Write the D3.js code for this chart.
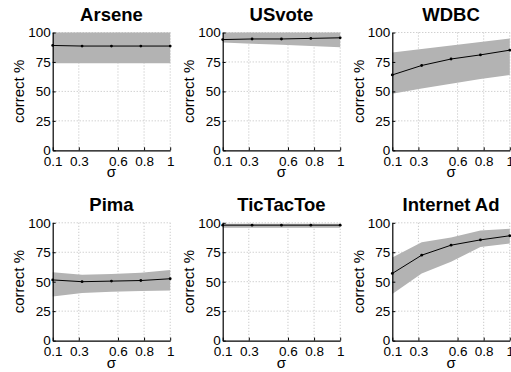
<!DOCTYPE html>
<html>
<head>
<meta charset="utf-8">
<script src="https://cdn.jsdelivr.net/npm/d3@7"></script>
<style>
  body { margin: 0; background: white; }
  svg { display: block; font-family: "Liberation Sans", Arial, sans-serif; }
</style>
</head>
<body>
<script>
// sigma values where the runs were made
var sigma = [0.1, 0.325, 0.55, 0.775, 1];
var xTicks = [0.1, 0.3, 0.6, 0.8, 1];
var yTicks = [0, 25, 50, 75, 100];

var titles = ["Arsene", "USvote", "WDBC", "Pima", "TicTacToe", "Internet Ad"];

// mean correct % and the band (lower / upper) for each data set
var arseneMean = [89, 88.5, 88.5, 88.5, 88.5];
var arseneLow  = [74, 74, 74, 74, 74];
var arseneHigh = [100, 100, 100, 100, 100];

var usvoteMean = [94, 94.5, 94.5, 95, 95.5];
var usvoteLow  = [91.5, 90.5, 89.5, 88.5, 87.5];
var usvoteHigh = [100, 100, 100, 100, 100];

var wdbcMean = [64, 72, 77.5, 81, 85];
var wdbcLow  = [48, 52.5, 56.5, 60.5, 64];
var wdbcHigh = [83, 86, 89, 92, 95];

var pimaMean = [51.5, 50, 50.5, 51, 52.5];
var pimaLow  = [37.5, 40.5, 41.5, 42, 42.5];
var pimaHigh = [58, 56, 56.5, 57.5, 60];

var tictacMean = [98, 98, 98, 98, 98];
var tictacLow  = [95.8, 95.8, 95.8, 95.8, 95.8];
var tictacHigh = [99.2, 99.2, 99.2, 99.2, 99.2];

var internetMean = [57, 72.5, 81, 85.5, 89];
var internetLow  = [39.5, 57, 67, 79.5, 82.5];
var internetHigh = [70.5, 83.5, 87.5, 93.5, 95];

var means = [arseneMean, usvoteMean, wdbcMean, pimaMean, tictacMean, internetMean];
var lows  = [arseneLow, usvoteLow, wdbcLow, pimaLow, tictacLow, internetLow];
var highs = [arseneHigh, usvoteHigh, wdbcHigh, pimaHigh, tictacHigh, internetHigh];

var width = 511, height = 372;
var colLeft = [52.7, 222.7, 392.3];
var rowTop = [32.5, 222.8];
var pw = 117.5, ph = 117.8;

var svg = d3.select("body").append("svg")
    .attr("width", width)
    .attr("height", height);

var x = d3.scaleLinear().domain([0.1, 1]).range([0, pw]);
var y = d3.scaleLinear().domain([0, 100]).range([ph, 0]);

titles.forEach(function(title, i) {
    var col = i % 3, row = Math.floor(i / 3);
    var g = svg.append("g")
        .attr("transform", "translate(" + colLeft[col] + "," + rowTop[row] + ")");

    var pts = sigma.map(function(s, k) {
        return { s: s, m: means[i][k], lo: lows[i][k], hi: highs[i][k] };
    });

    // dotted grid
    g.selectAll(".gx").data(xTicks.slice(1)).enter().append("line")
        .attr("x1", function(d) { return x(d); })
        .attr("x2", function(d) { return x(d); })
        .attr("y1", 0).attr("y2", ph)
        .attr("stroke", "#bdbdbd")
        .attr("stroke-width", 1)
        .attr("stroke-dasharray", "1,2");
    g.selectAll(".gy").data(yTicks.slice(1)).enter().append("line")
        .attr("x1", 0).attr("x2", pw)
        .attr("y1", function(d) { return y(d); })
        .attr("y2", function(d) { return y(d); })
        .attr("stroke", "#bdbdbd")
        .attr("stroke-width", 1)
        .attr("stroke-dasharray", "1,2");

    // band
    var area = d3.area()
        .x(function(d) { return x(d.s); })
        .y0(function(d) { return y(d.lo); })
        .y1(function(d) { return y(d.hi); });
    g.append("path")
        .datum(pts)
        .attr("d", area)
        .attr("fill", "#b3b3b3");

    // mean line with dots
    var line = d3.line()
        .x(function(d) { return x(d.s); })
        .y(function(d) { return y(d.m); });
    g.append("path")
        .datum(pts)
        .attr("d", line)
        .attr("fill", "none")
        .attr("stroke", "black")
        .attr("stroke-width", 1);
    g.selectAll(".pt").data(pts).enter().append("circle")
        .attr("cx", function(d) { return x(d.s); })
        .attr("cy", function(d) { return y(d.m); })
        .attr("r", 1.4)
        .attr("fill", "black");

    // axes, ticks inward like matlab
    var xAxis = d3.axisBottom(x).tickValues(xTicks)
        .tickFormat(function(d) { return d === 1 ? "1" : d3.format(".1f")(d); })
        .tickSizeInner(-3).tickSizeOuter(0).tickPadding(6);
    var gx = g.append("g").attr("transform", "translate(0," + ph + ")").call(xAxis);
    var yAxis = d3.axisLeft(y).tickValues(yTicks)
        .tickSizeInner(-3).tickSizeOuter(0).tickPadding(2);
    var gy = g.append("g").call(yAxis);

    [gx, gy].forEach(function(a) {
        a.select(".domain").attr("stroke", "black").attr("stroke-width", 1.2);
        a.selectAll(".tick line").attr("stroke", "black");
        a.selectAll(".tick text")
            .attr("fill", "black")
            .style("font-size", "13.5px")
            .style("font-family", "Liberation Sans, Arial, sans-serif");
    });

    // title
    g.append("text")
        .attr("x", pw / 2)
        .attr("y", -11.5)
        .attr("text-anchor", "middle")
        .style("font-size", "18.5px")
        .style("font-weight", "bold")
        .text(title);

    // axis labels
    g.append("text")
        .attr("x", pw / 2)
        .attr("y", ph + 27)
        .attr("text-anchor", "middle")
        .style("font-size", "15px")
        .text("σ");
    g.append("text")
        .attr("transform", "translate(" + (24 - colLeft[0]) + "," + (ph / 2) + ") rotate(-90)")
        .attr("text-anchor", "middle")
        .style("font-size", "15px")
        .text("correct %");
});
</script>
</body>
</html>
